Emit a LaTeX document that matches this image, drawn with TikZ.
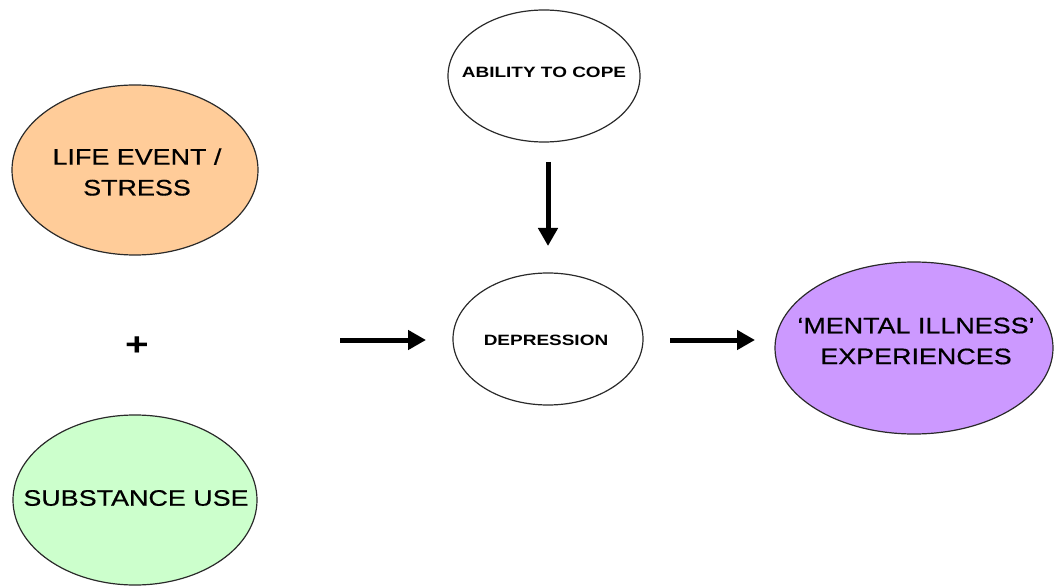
\documentclass[tikz,border=0pt]{standalone}
\usepackage{fontspec}
\usetikzlibrary{shapes.geometric,arrows.meta}
\newfontfamily\labfont[FakeStretch=1.2,FakeBold=0.6]{Liberation Sans}
\newfontfamily\smallfont[FakeStretch=1.27]{Liberation Sans}
\definecolor{peach}{HTML}{FFCC99}
\definecolor{mint}{HTML}{CCFFCC}
\definecolor{lilac}{HTML}{CC99FF}
\definecolor{rim}{HTML}{2A2A2A}
\tikzset{
  blob/.style={ellipse, draw=rim, line width=1.2bp, inner sep=0pt},
  bigtext/.style={align=center, font=\labfont\fontsize{22.5}{31}\selectfont, text=black},
  smalltext/.style={font=\smallfont\bfseries\fontsize{15}{18}\selectfont, text=black},
  flow/.style={line width=5bp, -{Triangle[width=19bp,length=18bp]}}
}
\begin{document}
\begin{tikzpicture}[x=1bp,y=-1bp]
  \useasboundingbox (0,0) rectangle (1054,586);
  % outlines of the factors
  \node[blob, fill=peach, minimum width=246bp, minimum height=170bp] (life) at (135,170) {};
  \node[blob, fill=mint, minimum width=244bp, minimum height=170bp] (subst) at (135,500) {};
  \node[blob, fill=white, minimum width=192bp, minimum height=132bp] (cope) at (544,76) {};
  \node[blob, fill=white, minimum width=190bp, minimum height=132bp] (dep) at (548,339) {};
  \node[blob, fill=lilac, minimum width=278bp, minimum height=172bp] (mental) at (914,348) {};
  % labels
  \node[bigtext] (lifetxt) at (137,172) {LIFE EVENT /\\STRESS};
  \node[bigtext] (substtxt) at (136,498) {SUBSTANCE USE};
  \node[smalltext] (copetxt) at (544,72) {ABILITY TO COPE};
  \node[smalltext] (deptxt) at (546,340) {DEPRESSION};
  \node[bigtext] (mentaltxt) at (916,341) {‘MENTAL ILLNESS’\\EXPERIENCES};
  \node[font=\smallfont\bfseries\fontsize{32}{32}\selectfont] (plus) at (137,346) {+};
  % arrows
  \coordinate (inA) at (340,340);
  \coordinate (inB) at (426,340);
  \coordinate (outA) at (670,340);
  \coordinate (outB) at (755,340);
  \coordinate (downA) at (548,162);
  \coordinate (downB) at (548,246);
  \draw[flow] (inA) -- (inB);
  \draw[flow] (outA) -- (outB);
  \draw[flow] (downA) -- (downB);
\end{tikzpicture}
\end{document}
